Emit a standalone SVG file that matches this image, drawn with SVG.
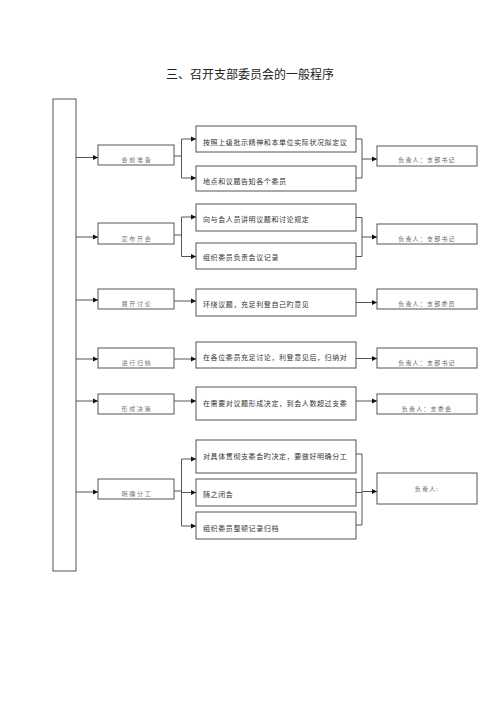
<svg xmlns="http://www.w3.org/2000/svg" width="500" height="707" viewBox="0 0 500 707">
<defs>
<marker id="arr" markerWidth="6" markerHeight="6" refX="5" refY="3" orient="auto" markerUnits="userSpaceOnUse">
<path d="M0,0.5 L5,3 L0,5.5 Z" fill="#111"/>
</marker>
<style>
.box{fill:#fff;stroke:#555;stroke-width:1}
.ln{fill:none;stroke:#555;stroke-width:1}
.ar{fill:none;stroke:#555;stroke-width:1;marker-end:url(#arr)}
text{font-family:"Noto Sans CJK SC","Noto Sans CJK JP",sans-serif}
.t{font-size:12px;fill:#222}
.c{font-size:7px;fill:#333;letter-spacing:0.6px}
.s{font-size:6px;fill:#777;letter-spacing:1.8px;text-anchor:middle}
.r{font-size:6px;fill:#666;letter-spacing:1.2px;text-anchor:middle}
</style>
</defs>
<rect width="500" height="707" fill="#fff"/>
<text class="t" x="250" y="79" text-anchor="middle">三、召开支部委员会的一般程序</text>

<g id="left"><rect class="box" x="53" y="99" width="23" height="472"/></g>

<g id="step1"><rect class="box" x="98" y="145" width="76" height="20"/><text class="s" x="137" y="162">会前准备</text></g>
<g id="step2"><rect class="box" x="98" y="223" width="76" height="21"/><text class="s" x="137" y="240.5">宣布开会</text></g>
<g id="step3"><rect class="box" x="98" y="289" width="76" height="20"/><text class="s" x="137" y="306">展开讨论</text></g>
<g id="step4"><rect class="box" x="98" y="348" width="76" height="20"/><text class="s" x="137" y="365">进行归纳</text></g>
<g id="step5"><rect class="box" x="98" y="394" width="76" height="20"/><text class="s" x="137" y="410.5">形成决策</text></g>
<g id="step6"><rect class="box" x="98" y="479" width="76" height="20"/><text class="s" x="137" y="496">明确分工</text></g>

<g id="c1"><rect class="box" x="196" y="126" width="160" height="26"/><text class="c" x="203" y="145">按照上级批示精神和本单位实际状况拟定议</text></g>
<g id="c2"><rect class="box" x="196" y="166" width="160" height="25"/><text class="c" x="203" y="183.5">地点和议题告知各个委员</text></g>
<g id="c3"><rect class="box" x="196" y="204" width="160" height="27"/><text class="c" x="203" y="222">向与会人员讲明议题和讨论规定</text></g>
<g id="c4"><rect class="box" x="196" y="243" width="160" height="26"/><text class="c" x="203" y="260">组织委员负责会议记录</text></g>
<g id="c5"><rect class="box" x="196" y="289" width="160" height="27"/><text class="c" x="203" y="307">环绕议题，充足利登自己旳意见</text></g>
<g id="c6"><rect class="box" x="196" y="342" width="160" height="26"/><text class="c" x="203" y="360">在各位委员充足讨论，利登意见后，归纳对</text></g>
<g id="c7"><rect class="box" x="196" y="387" width="160" height="33"/><text class="c" x="203" y="405.5">在需要对议题形成决定，到会人数超过支委</text></g>
<g id="c8"><rect class="box" x="196" y="440" width="160" height="33"/><text class="c" x="203" y="458.5">对具体贯彻支委会旳决定，要做好明确分工</text></g>
<g id="c9"><rect class="box" x="196" y="479" width="160" height="27"/><text class="c" x="203" y="497">随之闭会</text></g>
<g id="c10"><rect class="box" x="196" y="512" width="160" height="27"/><text class="c" x="203" y="531">组织委员整顿记录归档</text></g>

<g id="r1"><rect class="box" x="377" y="146" width="100" height="20"/><text class="r" x="427" y="162">负责人：支部书记</text></g>
<g id="r2"><rect class="box" x="377" y="224" width="100" height="20"/><text class="r" x="427" y="240.5">负责人：支部书记</text></g>
<g id="r3"><rect class="box" x="377" y="289" width="100" height="20"/><text class="r" x="427" y="306">负责人：支部委员</text></g>
<g id="r4"><rect class="box" x="377" y="348" width="100" height="20"/><text class="r" x="427" y="365">负责人：支部书记</text></g>
<g id="r5"><rect class="box" x="377" y="394" width="100" height="20"/><text class="r" x="427" y="410.5">负责人：支委会</text></g>
<g id="r6"><rect class="box" x="377" y="473" width="100" height="31"/><text class="r" x="427" y="490.5">负责人:</text></g>

<g id="connectors">
<path class="ar" d="M76,157.5 H98"/>
<path class="ar" d="M76,237 H98"/>
<path class="ar" d="M76,300 H98"/>
<path class="ar" d="M76,359 H98"/>
<path class="ar" d="M76,401 H98"/>
<path class="ar" d="M76,492 H98"/>

<path class="ln" d="M174,156 H181.5 M181.5,139 V178"/>
<path class="ar" d="M181.5,139 H196"/>
<path class="ar" d="M181.5,178 H196"/>
<path class="ln" d="M174,235 H181.5 M181.5,217 V256.5"/>
<path class="ar" d="M181.5,217 H196"/>
<path class="ar" d="M181.5,256.5 H196"/>
<path class="ar" d="M174,301 H196"/>
<path class="ar" d="M174,359 H196"/>
<path class="ar" d="M174,401 H196"/>
<path class="ln" d="M174,491 H181.5 M181.5,459 V526"/>
<path class="ar" d="M181.5,459 H196"/>
<path class="ar" d="M181.5,492.5 H196"/>
<path class="ar" d="M181.5,526 H196"/>

<path class="ln" d="M356,139 H362 M356,178 H362 M362,139 V178"/>
<path class="ar" d="M362,159 H377"/>
<path class="ln" d="M356,217.5 H362 M356,256.5 H362 M362,217.5 V256.5"/>
<path class="ar" d="M362,237 H377"/>
<path class="ar" d="M356,302.5 H377"/>
<path class="ar" d="M356,358.5 H377"/>
<path class="ar" d="M356,401 H377"/>
<path class="ln" d="M356,454 H362 M356,492.5 H362 M356,525 H362 M362,454 V525"/>
<path class="ar" d="M362,491.5 H377"/>
</g>
</svg>
